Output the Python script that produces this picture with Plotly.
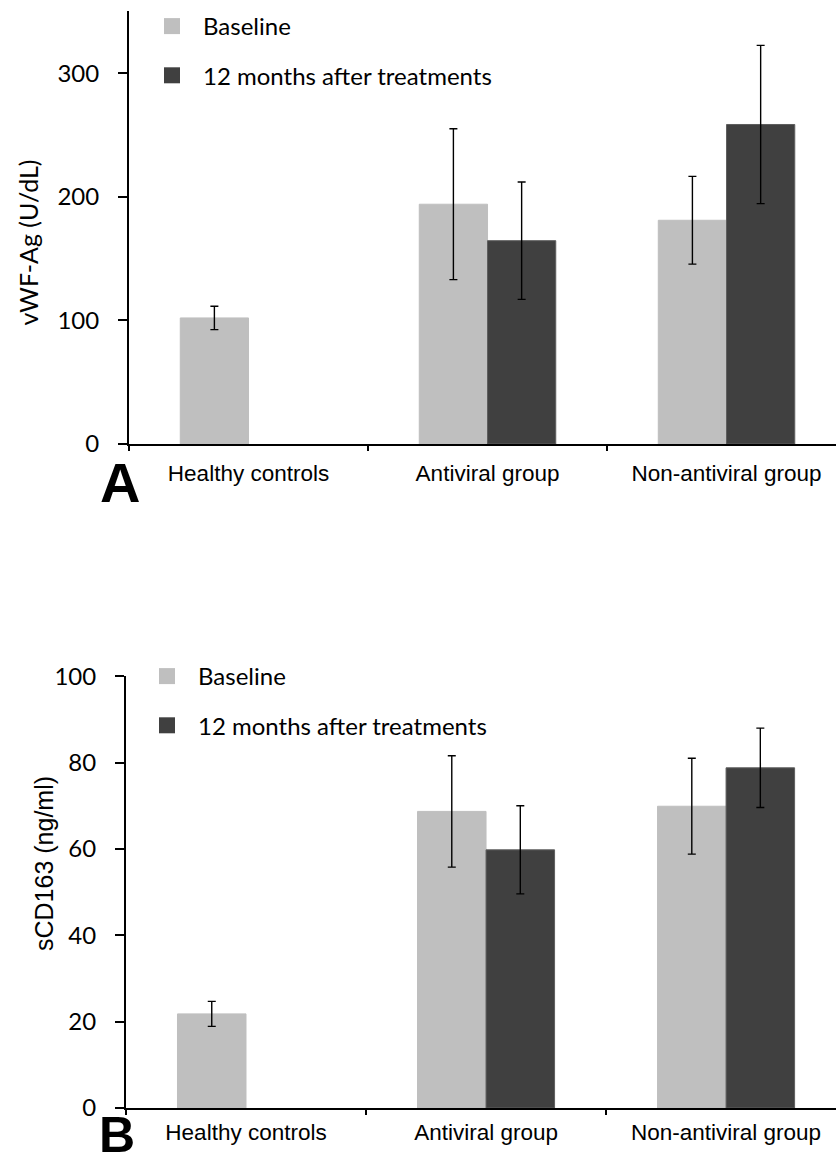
import plotly.graph_objects as go

categories = ["Healthy controls", "Antiviral group", "Non-antiviral group"]
series_names = ["Baseline", "12 months after treatments"]

vwf_baseline = [102, 194, 181]
vwf_baseline_err = [9.5, 61, 35.5]
vwf_12m = [None, 164.5, 258.5]
vwf_12m_err = [0, 47.5, 64]

scd_baseline = [21.8, 68.7, 69.9]
scd_baseline_err = [2.9, 12.9, 11.1]
scd_12m = [None, 59.8, 78.8]
scd_12m_err = [0, 10.2, 9.2]

colors = ["#BFBFBF", "#404040"]
edge_colors = ["#BFBFBF", "#5E5E5E"]

W, H = 836, 1166
TICK_FONT = dict(family="Lato", size=24, color="black")
CAT_FONT = dict(family="Liberation Sans", size=22.5, color="black")
LEG_FONT = dict(family="Lato", size=24, color="black")

fig = go.Figure()

panels = [
    ("x", "y", "legend", [vwf_baseline, vwf_12m], [vwf_baseline_err, vwf_12m_err]),
    ("x2", "y2", "legend2", [scd_baseline, scd_12m], [scd_baseline_err, scd_12m_err]),
]

for xa, ya, lg, vals, errs in panels:
    for i in range(2):
        fig.add_trace(go.Bar(
            x=categories, y=vals[i], name=series_names[i],
            marker=dict(color=colors[i], line=dict(width=1, color=edge_colors[i])),
            error_y=dict(type="data", array=errs[i], visible=True,
                         color="black", thickness=1.4, width=4),
            xaxis=xa, yaxis=ya, showlegend=False,
        ))
    for i in range(2):
        fig.add_trace(go.Scatter(
            x=[None], y=[None], mode="markers", name=series_names[i],
            marker=dict(symbol="square", size=16, color=colors[i]),
            xaxis=xa, yaxis=ya, legend=lg, legendgroup=f"{lg}_{i}",
        ))

def ydom(y0_px, ytop_px):
    return [(H - y0_px) / H, (H - ytop_px) / H]

common_x = dict(
    type="category", showline=True, linecolor="black", linewidth=2,
    ticks="outside", tickson="boundaries", ticklen=5, tickwidth=1.5, tickcolor="black",
    tickfont=CAT_FONT, showgrid=False, zeroline=False, range=[-0.5, 2.458],
    automargin=False,
)
common_y = dict(
    showline=True, linecolor="black", linewidth=2,
    ticks="outside", ticklen=9, tickwidth=1.5, tickcolor="black",
    tickfont=TICK_FONT, showgrid=False, zeroline=False, ticklabelstandoff=14,
    automargin=False,
)

fig.update_layout(
    width=W, height=H,
    margin=dict(l=0, r=0, t=0, b=0, autoexpand=False),
    paper_bgcolor="white", plot_bgcolor="white",
    barmode="group", bargap=0.429, bargroupgap=0,
    xaxis=dict(common_x, domain=[129 / W, 1], anchor="y", ticklabelstandoff=8),
    yaxis=dict(common_y, domain=ydom(444, 11.4), range=[0, 350],
               tickvals=[0, 100, 200, 300], anchor="x"),
    xaxis2=dict(common_x, domain=[126 / W, 1], anchor="y2", ticklabelstandoff=3),
    yaxis2=dict(common_y, domain=ydom(1108, 676.3), range=[0, 100],
                tickvals=[0, 20, 40, 60, 80, 100], anchor="x2"),
    legend=dict(x=141 / W, y=1 - 4 / H, xanchor="left", yanchor="top",
                font=LEG_FONT, itemwidth=52, tracegroupgap=15,
                bgcolor="rgba(0,0,0,0)"),
    legend2=dict(x=136 / W, y=1 - 654 / H, xanchor="left", yanchor="top",
                 font=LEG_FONT, itemwidth=52, tracegroupgap=15,
                 bgcolor="rgba(0,0,0,0)"),
    annotations=[
        dict(text="vWF-Ag (U/dL)", textangle=-90, x=27.5 / W, y=(H - 243) / H,
             xref="paper", yref="paper", xanchor="center", yanchor="middle",
             showarrow=False, font=dict(family="Lato", size=25, color="black")),
        dict(text="sCD163 (ng/ml)", textangle=-90, x=44 / W, y=(H - 864) / H,
             xref="paper", yref="paper", xanchor="center", yanchor="middle",
             showarrow=False, font=dict(family="Liberation Sans", size=25, color="black")),
        dict(text="<b>A</b>", x=119.5 / W, y=(H - 483) / H, xref="paper", yref="paper",
             xanchor="center", yanchor="middle",
             showarrow=False, font=dict(family="Liberation Sans", size=56, color="black")),
        dict(text="<b>B</b>", x=117 / W, y=1 / H, xref="paper", yref="paper",
             xanchor="center", yanchor="bottom",
             showarrow=False, font=dict(family="Liberation Sans", size=50, color="black")),
    ],
)

fig.write_html(
    "out.html",
    config={"displayModeBar": False},
    post_script="document.body.style.margin='0';document.body.style.overflow='hidden';",
)
